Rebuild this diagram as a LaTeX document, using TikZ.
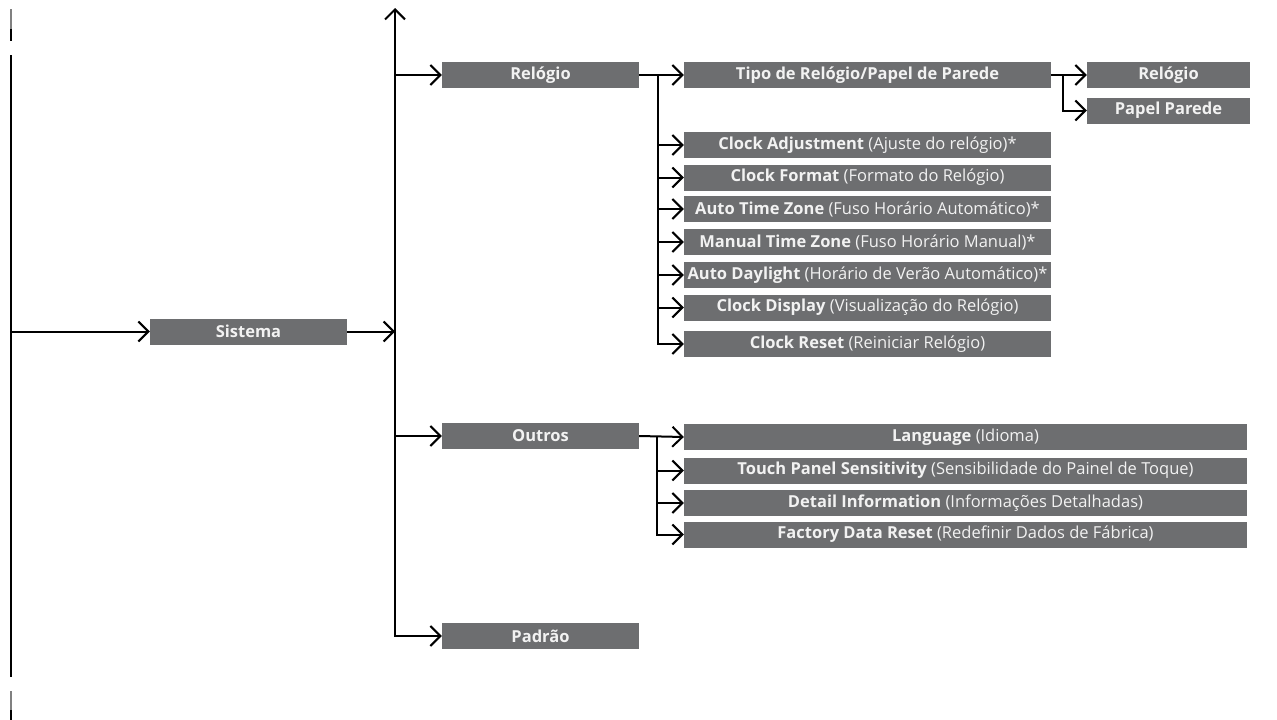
\documentclass[tikz,border=0pt]{standalone}
\usepackage{fontspec}
\setmainfont{Open Sans}
\usetikzlibrary{arrows.meta,positioning}
\definecolor{BoxGray}{RGB}{109,110,112}
\definecolor{BoxText}{RGB}{242,242,242}

\tikzset{
	menubox/.style={fill=BoxGray, text=BoxText, inner sep=0pt, minimum height=26pt, font=\fontsize{16.5}{20}\selectfont},
	link/.style={line width=2pt},
	arr/.style={link, -{Straight Barb[length=10pt,width=20pt]}},
	arrboth/.style={link, {Straight Barb[length=10pt,width=20pt]}-{Straight Barb[length=10pt,width=20pt]}}
}

\begin{document}
\begin{tikzpicture}[x=1pt, y=-1pt]
		\useasboundingbox (0,0) rectangle (1277,720);
		
		% main level
		\node[menubox, minimum width=197pt] (sistema) at (248.5,331.5) {\textbf{Sistema}};
		\node[menubox, minimum width=197pt] (relogio) at (540.5,75) {\textbf{Relógio}};
		\node[menubox, minimum width=197pt] (outros) at (540.5,436) {\textbf{Outros}};
		\node[menubox, minimum width=197pt] (padrao) at (540.5,636) {\textbf{Padrão}};
		
		% Relogio submenu
		\node[menubox, minimum width=367pt] (tipo) at (867.5,75) {\textbf{Tipo de Relógio/Papel de Parede}};
		\node[menubox, minimum width=367pt] (cadjust) at (867.5,145) {\textbf{Clock Adjustment} (Ajuste do relógio)*};
		\node[menubox, minimum width=367pt] (cformat) at (867.5,177.5) {\textbf{Clock Format} (Formato do Relógio)};
		\node[menubox, minimum width=367pt] (autozone) at (867.5,209) {\textbf{Auto Time Zone} (Fuso Horário Automático)*};
		\node[menubox, minimum width=367pt] (manzone) at (867.5,242) {\textbf{Manual Time Zone} (Fuso Horário Manual)*};
		\node[menubox, minimum width=367pt] (daylight) at (867.5,275) {\textbf{Auto Daylight} (Horário de Verão Automático)*};
		\node[menubox, minimum width=367pt] (cdisplay) at (867.5,307.5) {\textbf{Clock Display} (Visualização do Relógio)};
		\node[menubox, minimum width=367pt] (creset) at (867.5,344) {\textbf{Clock Reset} (Reiniciar Relógio)};
		
		\node[menubox, minimum width=163pt] (relogiob) at (1168.5,75) {\textbf{Relógio}};
		\node[menubox, minimum width=163pt] (papel) at (1168.5,110.5) {\textbf{Papel Parede}};
		
		% Outros submenu
		\node[menubox, minimum width=563pt] (language) at (965.5,437) {\textbf{Language} (Idioma)};
		\node[menubox, minimum width=563pt] (touch) at (965.5,470.5) {\textbf{Touch Panel Sensitivity} (Sensibilidade do Painel de Toque)};
		\node[menubox, minimum width=563pt] (detail) at (965.5,503) {\textbf{Detail Information} (Informações Detalhadas)};
		\node[menubox, minimum width=563pt] (factory) at (965.5,534.5) {\textbf{Factory Data Reset} (Redefinir Dados de Fábrica)};
		
		\coordinate (left) at (11,55);
		\coordinate (spine) at (395,8);
		\coordinate (rfork) at (658,75);
		\coordinate (tfork) at (1063,75);
		\coordinate (ofork) at (657,436);
		
		% page edge
		\draw[link, gray] (11,9) -- (11,29);
		\draw[link] (11,29) -- (11,41);
		\draw[link] (left) -- (11,677);
		\draw[link, gray] (11,691) -- (11,710);
		\draw[link] (11,710) -- (11,720);
		
		\draw[arr] (sistema.west -| left) -- (sistema.west);
		\draw[arr] (sistema.east) -- (sistema.east -| spine);
		\draw[arrboth] (spine) |- (padrao.west);
		\draw[arr] (relogio.west -| spine) -- (relogio.west);
		\draw[arr] (outros.west -| spine) -- (outros.west);
		
		\draw[arr] (relogio.east) -- (tipo.west);
		\draw[arr] (rfork) |- (cadjust.west);
		\draw[arr] (rfork) |- (cformat.west);
		\draw[arr] (rfork) |- (autozone.west);
		\draw[arr] (rfork) |- (manzone.west);
		\draw[arr] (rfork) |- (daylight.west);
		\draw[arr] (rfork) |- (cdisplay.west);
		\draw[arr] (rfork) |- (creset.west);
		
		\draw[arr] (tipo.east) -- (relogiob.west);
		\draw[arr] (tfork) |- (papel.west);
		
		\draw[arr] (outros.east) -- (language.west);
		\draw[arr] (ofork) |- (touch.west);
		\draw[arr] (ofork) |- (detail.west);
		\draw[arr] (ofork) |- (factory.west);
	\end{tikzpicture}
\end{document}
